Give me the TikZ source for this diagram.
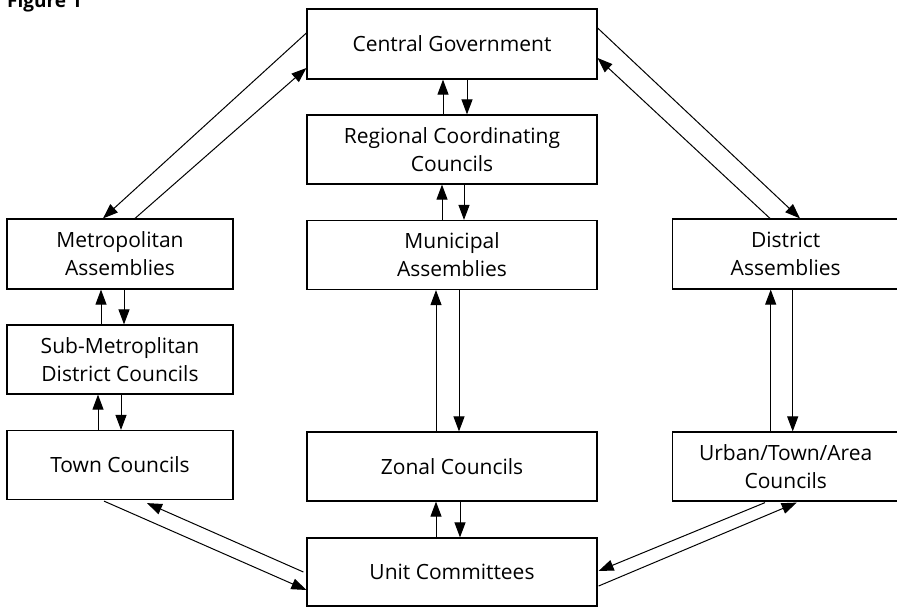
\documentclass[tikz,border=0pt]{standalone}
\usepackage{fontspec}
\setmainfont{Open Sans}
\usetikzlibrary{arrows.meta,calc}
\begin{document}
\begin{tikzpicture}[x=1pt,y=-1pt,
  box/.style={draw, line width=1.2pt, inner sep=0pt, align=center, font=\fontsize{21}{28}\selectfont},
  wbox/.style={box, minimum width=290pt, minimum height=69pt},
  nbox/.style={box, minimum width=226pt, minimum height=69pt},
  conn/.style={line width=1pt, -{Triangle[length=15pt,width=11pt]}}]
\clip (0,0) rectangle (897,606);
\fill[white] (0,0) rectangle (897,606);
\node[anchor=base west, inner sep=0pt, font=\bfseries\fontsize{19}{22}\selectfont] (fig) at (7,7) {Figure 1};
\node[wbox, minimum height=70pt] (cg) at (452,44) {Central Government};
\node[wbox] (rcc) at (452,149.5) {Regional Coordinating\\Councils};
\node[wbox] (mun) at (452,255) {Municipal\\Assemblies};
\node[wbox] (zon) at (452,466.5) {Zonal Councils};
\node[wbox, minimum height=68pt] (unit) at (452,572) {Unit Committees};
\node[nbox, minimum height=70pt] (met) at (120,254) {Metropolitan\\Assemblies};
\node[nbox] (sub) at (120,359.5) {Sub-Metroplitan\\District Councils};
\node[nbox] (town) at (120,465) {Town Councils};
\node[nbox, minimum height=70pt] (dist) at (785.7,254) {District\\Assemblies};
\node[nbox] (urb) at (785.7,466.5) {Urban/Town/Area\\Councils};
% vertical pairs
\draw[conn] ($(rcc.north)+(-9,0)$) -- ($(cg.south)+(-9,0)$);
\draw[conn] ($(cg.south)+(15,0)$) -- ($(rcc.north)+(15,0)$);
\draw[conn] ($(mun.north)+(-10,0)$) -- ($(rcc.south)+(-10,0)$);
\draw[conn] ($(rcc.south)+(12,0)$) -- ($(mun.north)+(12,0)$);
\draw[conn] ($(zon.north)+(-16,0)$) -- ($(mun.south)+(-16,0)$);
\draw[conn] ($(mun.south)+(7,0)$) -- ($(zon.north)+(7,0)$);
\draw[conn] ($(unit.north)+(-16,0)$) -- ($(zon.south)+(-16,0)$);
\draw[conn] ($(zon.south)+(8,0)$) -- ($(unit.north)+(8,0)$);
\draw[conn] ($(sub.north)+(-19,0)$) -- ($(met.south)+(-19,0)$);
\draw[conn] ($(met.south)+(4,0)$) -- ($(sub.north)+(4,0)$);
\draw[conn] ($(town.north)+(-22,0)$) -- ($(sub.south)+(-22,0)$);
\draw[conn] ($(sub.south)+(1,0)$) -- ($(town.north)+(1,0)$);
\draw[conn] ($(urb.north)+(-15,0)$) -- ($(dist.south)+(-15,0)$);
\draw[conn] ($(dist.south)+(7,0)$) -- ($(urb.north)+(7,0)$);
% diagonals
\draw[conn] ($(cg.west)+(0,-11)$) -- ($(met.north)+(-17,0)$);
\draw[conn] ($(met.north)+(15,0)$) -- ($(cg.west)+(0,24)$);
\draw[conn] ($(cg.east)+(0,-16)$) -- ($(dist.north)+(14.3,0)$);
\draw[conn] ($(dist.north)+(-15.7,0)$) -- ($(cg.east)+(0,14)$);
\draw[conn] ($(town.south)+(-16,1)$) -- ($(unit.west)+(0,18)$);
\draw[conn] ($(unit.west)+(-3,0)$) -- ($(town.south)+(27,3)$);
\draw[conn] ($(urb.south)+(-20.7,1)$) -- ($(unit.east)+(1,-1)$);
\draw[conn] ($(unit.east)+(1,14)$) -- ($(urb.south)+(11,1)$);
\end{tikzpicture}
\end{document}
